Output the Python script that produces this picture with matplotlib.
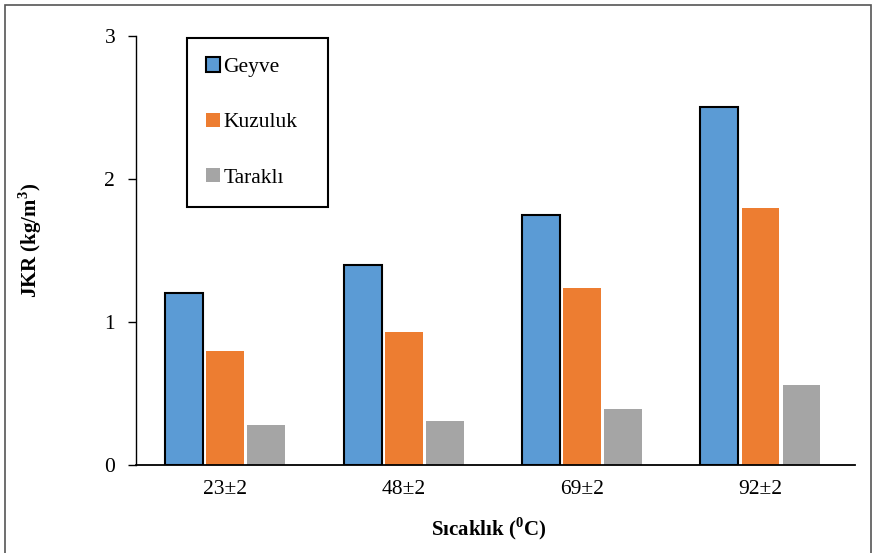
import matplotlib
matplotlib.use("Agg")
import matplotlib.pyplot as plt
import numpy as np
from matplotlib.patches import Rectangle

plt.rcParams['font.family'] = ['Liberation Serif', 'DejaVu Serif']
plt.rcParams['mathtext.fontset'] = 'custom'
plt.rcParams['mathtext.rm'] = 'Liberation Serif'
plt.rcParams['mathtext.bf'] = 'Liberation Serif:bold'

categories = ["23±2", "48±2", "69±2", "92±2"]
series_names = ["Geyve", "Kuzuluk", "Taraklı"]
geyve = [1.20, 1.40, 1.75, 2.50]
kuzuluk = [0.80, 0.93, 1.24, 1.80]
tarakli = [0.28, 0.31, 0.39, 0.56]
yticks = [0, 1, 2, 3]

colors = ["#5B9BD5", "#ED7D31", "#A5A5A5"]

fig = plt.figure(figsize=(8.72, 5.53), dpi=100)
ax = fig.add_axes([0.156, 0.159, 0.8245, 0.776])

x = np.arange(len(categories))
width = 0.212
offset = 0.23
values = [geyve, kuzuluk, tarakli]
for i, (name, vals, c) in enumerate(zip(series_names, values, colors)):
    kw = dict(edgecolor="black", linewidth=1.5) if i == 0 else dict(linewidth=0)
    ax.bar(x + (i - 1) * offset, vals, width, color=c, label=name, zorder=2, **kw)

ax.set_xlim(-0.5, len(categories) - 0.47)
ax.set_ylim(0, 3)
ax.set_yticks(yticks)
ax.set_xticks(x)
ax.set_xticklabels(categories, fontsize=15.5)
ax.tick_params(axis='y', labelsize=15.5, length=6, width=1, direction='out', pad=9)
ax.tick_params(axis='x', length=0, pad=11)
for s in ["top", "right"]:
    ax.spines[s].set_visible(False)
ax.spines["left"].set_linewidth(1)
ax.spines["bottom"].set_linewidth(1.3)

ax.set_ylabel(r"JKR (kg/m$^{\mathbf{3}}$)", fontsize=15, fontweight="bold")
ax.set_xlabel(r"Sıcaklık ($^{\mathbf{0}}$C)", fontsize=15, fontweight="bold")
ax.yaxis.set_label_coords(-0.1275, 0.523)
ax.xaxis.set_label_coords(0.491, -0.117)

leg = ax.legend(loc="upper left", bbox_to_anchor=(0.0709, 0.611, 0.196, 0.384),
                mode="expand", fontsize=15.5,
                frameon=True, fancybox=False, framealpha=1, edgecolor="black",
                labelspacing=1.65, handlelength=0.65, handleheight=0.65,
                handletextpad=0.15, borderpad=0.9, borderaxespad=0)
leg.get_frame().set_linewidth(1.5)
for h in leg.legend_handles[1:]:
    h.set_linewidth(0)

fig.patches.append(Rectangle((5 / 872, -0.01), 866 / 872, 1 - 5 / 553 + 0.01,
                             transform=fig.transFigure, fill=False,
                             edgecolor="#555555", linewidth=1.2))

fig.savefig("out.png", dpi=100)
